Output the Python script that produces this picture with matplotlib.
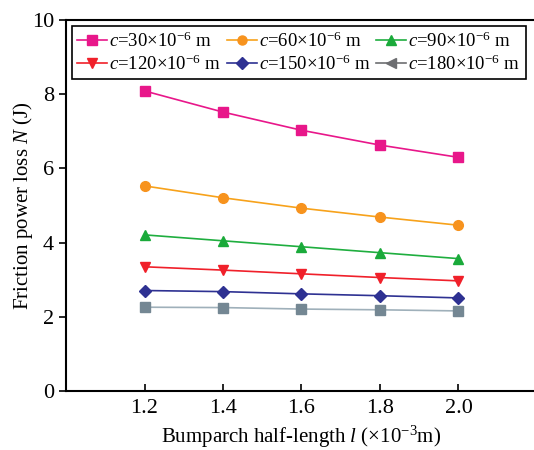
import numpy as np
import matplotlib
matplotlib.use('Agg')
import matplotlib.pyplot as plt
from matplotlib.lines import Line2D

plt.rcParams['font.family'] = ['Liberation Serif', 'DejaVu Serif']
plt.rcParams['mathtext.fontset'] = 'custom'
plt.rcParams['mathtext.rm'] = 'Liberation Serif'
plt.rcParams['mathtext.it'] = 'Liberation Serif:italic'

# bumparch half-length (x10^-3 m)
half_length = [1.2, 1.4, 1.6, 1.8, 2.0]

# friction power loss for each clearance c
loss_c30 = [8.09, 7.52, 7.03, 6.63, 6.30]
loss_c60 = [5.53, 5.21, 4.93, 4.69, 4.47]
loss_c90 = [4.21, 4.05, 3.89, 3.73, 3.57]
loss_c120 = [3.35, 3.26, 3.16, 3.06, 2.97]
loss_c150 = [2.71, 2.68, 2.62, 2.57, 2.51]
loss_c180 = [2.26, 2.25, 2.21, 2.19, 2.16]

labels = [r'$c$=30×10$^{-6}$ m', r'$c$=60×10$^{-6}$ m', r'$c$=90×10$^{-6}$ m',
          r'$c$=120×10$^{-6}$ m', r'$c$=150×10$^{-6}$ m', r'$c$=180×10$^{-6}$ m']

fig = plt.figure(figsize=(5.34, 4.5), dpi=100)
ax = fig.add_axes([0.1236, 0.131, 0.882, 0.8244])

series = [
    (loss_c30, '#e8178a', '#e8178a', 's'),
    (loss_c60, '#f7a21b', '#f7931e', 'o'),
    (loss_c90, '#1fae3f', '#1aaa3a', '^'),
    (loss_c120, '#f0202a', '#f0202a', 'v'),
    (loss_c150, '#2e3192', '#2e3192', 'D'),
    (loss_c180, '#9fb0ba', '#748793', 's'),
]

handles = []
for (vals, lc, mc, mk), lab in zip(series, labels):
    ms = 7 if mk != 'D' else 6.5
    ax.plot(half_length, vals, color=lc, lw=1.2, marker=mk, markersize=ms,
            markerfacecolor=mc, markeredgecolor=mc)
    handles.append(Line2D([], [], color=lc, lw=1.2, marker=mk, markersize=6.5,
                          markerfacecolor=mc, markeredgecolor=mc, label=lab))
# legend shows the last series with a left triangle in dark grey
handles[-1] = Line2D([], [], color='#6d6e71', lw=1.2, marker='<', markersize=6.5,
                     markerfacecolor='#6d6e71', markeredgecolor='#6d6e71', label=labels[-1])
# legend fills column by column, so reorder to get rows 30/60/90 and 120/150/180
order = [0, 3, 1, 4, 2, 5]
handles = [handles[i] for i in order]

ax.set_xlim(1.0, 2.2)
ax.set_ylim(0, 10)
ax.set_xticks([1.2, 1.4, 1.6, 1.8, 2.0])
ax.set_xticklabels(['1.2', '1.4', '1.6', '1.8', '2.0'])
ax.set_yticks([0, 2, 4, 6, 8, 10])
ax.tick_params(axis='x', direction='in', length=5, width=1.2, labelsize=16, pad=6)
ax.tick_params(axis='y', direction='out', length=5, width=1.2, labelsize=16)
for s in ['left', 'bottom', 'top']:
    ax.spines[s].set_linewidth(1.5)
ax.spines['right'].set_visible(False)

ax.set_xlabel(r'Bumparch half-length $l$ (×10$^{-3}$m)', fontsize=15, labelpad=4)
ax.set_ylabel(r'Friction power loss $N$ (J)', fontsize=15)
ax.yaxis.set_label_coords(-0.066, 0.5)

leg = ax.legend(handles=handles, ncol=3, loc='upper left', bbox_to_anchor=(0.012, 0.985),
                fontsize=13.5, frameon=True, fancybox=False, edgecolor='black', framealpha=1,
                handlelength=1.6, handletextpad=0.1, columnspacing=0.3, labelspacing=0.2,
                borderpad=0.3, borderaxespad=0)
leg.get_frame().set_linewidth(1.2)

fig.savefig('out.png', dpi=100)
